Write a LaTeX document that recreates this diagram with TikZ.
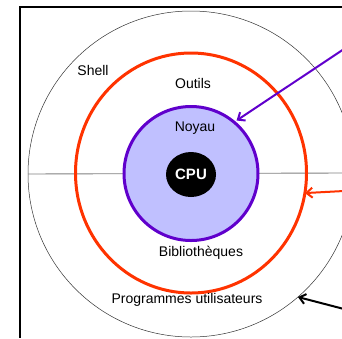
\documentclass[tikz,border=0pt]{standalone}
\usepackage{fontspec}
\setmainfont{Liberation Sans}
\usetikzlibrary{shapes.geometric,arrows.meta}

\definecolor{ringred}{RGB}{255,51,0}
\definecolor{kernelviolet}{RGB}{96,0,204}
\definecolor{kernelfill}{RGB}{192,192,255}

\tikzset{
    layer/.style={circle, inner sep=0pt, outer sep=0pt},
    pointer/.style={-{Straight Barb[length=6pt,width=10pt]}, line width=2pt}
}

\begin{document}
\begin{tikzpicture}[x=1pt,y=-1pt,font=\fontsize{14}{16}\selectfont]
    \useasboundingbox (0,0) rectangle (342,338);

    % Draw the frame (top and left edges only)
    \draw[line width=1.4pt] (342,7) -- (20,7) -- (20,338);

    % Draw the layers
    \node[layer, draw=black!80, line width=0.5pt, minimum size=326pt] (shell) at (191,174) {};
    \coordinate (axisend) at (342,173);
    \draw[gray, line width=0.9pt] (shell.west) -- (axisend);
    \node[ellipse, inner sep=0pt, outer sep=0pt, draw=ringred, line width=3pt,
          minimum width=231pt, minimum height=240pt] (outils) at (191,173) {};
    \node[layer, draw=kernelviolet, fill=kernelfill, line width=3pt, minimum size=134pt] (noyau) at (191,173.5) {};
    \node[ellipse, fill=black, text=white, font=\fontsize{15}{17}\selectfont\bfseries,
          minimum width=50pt, minimum height=45pt, inner sep=0pt] (cpu) at (191,174.5) {CPU};

    % Layer names
    \node (lshell) at (93,70) {Shell};
    \node (loutils) at (193,83) {Outils};
    \node (lnoyau) at (195,128) {Noyau};
    \node (lbiblio) at (201,253) {Bibliothèques};
    \node (lprog) at (187,300) {Programmes utilisateurs};

    % Arrows coming in from the right
    \coordinate (fromnoyau) at (344,49);
    \coordinate (fromoutils) at (344,191);
    \coordinate (fromshell) at (344,309);
    \draw[pointer, kernelviolet, shorten >=3pt] (fromnoyau) -- (noyau.50);
    \draw[pointer, ringred] (fromoutils) -- (outils.-10);
    \draw[pointer, black] (fromshell) -- (shell.-49);
\end{tikzpicture}
\end{document}
